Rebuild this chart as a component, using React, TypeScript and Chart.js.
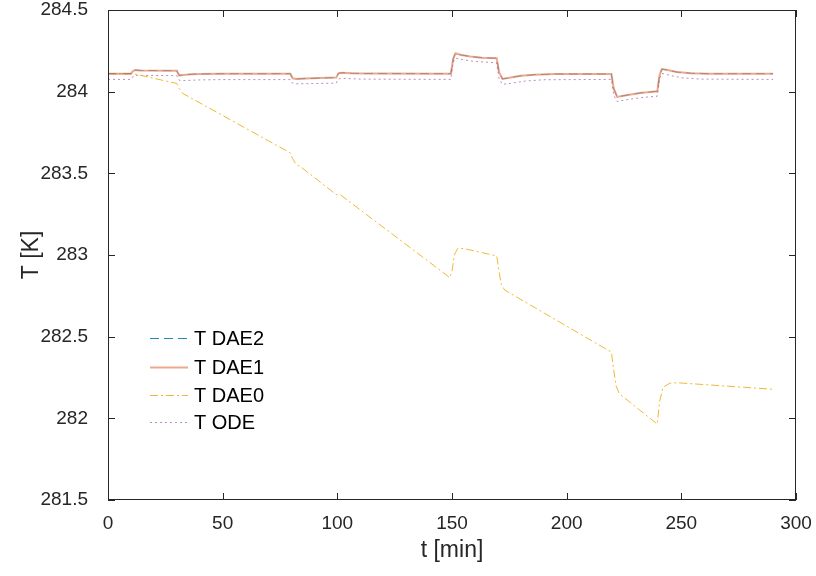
import React, { useEffect, useRef } from "react";
import { Chart, registerables } from "chart.js";

Chart.register(...registerables);

const dae_t = [0, 10, 11, 12, 14, 30, 31, 33, 36, 40, 50, 79.5, 80.5, 82, 86, 92, 99.5, 100.5, 102, 106, 112, 149.5, 150.5, 151.5, 154, 158, 163, 169.5, 170.5, 172, 175, 180, 186, 195, 219.5, 220.5, 222, 226, 232, 239.5, 240.5, 241.5, 244, 248, 254, 262, 290];
const dae2_T = [284.11, 284.11, 284.128, 284.132, 284.13, 284.128, 284.1, 284.102, 284.106, 284.108, 284.11, 284.11, 284.082, 284.078, 284.08, 284.083, 284.086, 284.112, 284.116, 284.113, 284.111, 284.11, 284.2, 284.235, 284.225, 284.215, 284.208, 284.205, 284.12, 284.078, 284.085, 284.097, 284.104, 284.108, 284.108, 284.02, 283.968, 283.978, 283.992, 284.002, 284.1, 284.138, 284.132, 284.12, 284.113, 284.11, 284.11];
const dae1_T = [284.11, 284.11, 284.128, 284.132, 284.13, 284.128, 284.1, 284.102, 284.106, 284.108, 284.11, 284.11, 284.082, 284.078, 284.08, 284.083, 284.086, 284.112, 284.116, 284.113, 284.111, 284.11, 284.2, 284.235, 284.225, 284.215, 284.208, 284.205, 284.12, 284.078, 284.085, 284.097, 284.104, 284.108, 284.108, 284.02, 283.968, 283.978, 283.992, 284.002, 284.1, 284.138, 284.132, 284.12, 284.113, 284.11, 284.11];

const ode_t = [0, 10, 11, 12, 30, 31, 33, 40, 50, 79.5, 80.5, 82, 90, 99.5, 100.5, 102, 110, 149.5, 150.5, 151.5, 155, 160, 169.5, 170.5, 172, 176, 182, 190, 219.5, 220.5, 222, 228, 234, 239.5, 240.5, 241.5, 245, 250, 258, 290];
const ode_T = [284.075, 284.075, 284.095, 284.1, 284.098, 284.07, 284.068, 284.072, 284.074, 284.074, 284.052, 284.048, 284.05, 284.052, 284.078, 284.082, 284.077, 284.075, 284.18, 284.205, 284.195, 284.185, 284.177, 284.08, 284.045, 284.052, 284.065, 284.073, 284.075, 283.98, 283.94, 283.955, 283.966, 283.972, 284.08, 284.112, 284.1, 284.085, 284.077, 284.075];

const dae0_t = [0, 10, 11, 30, 31, 32.5, 79.5, 80.5, 82, 84, 99.5, 101, 149, 150, 151, 152.5, 155, 169.5, 170.5, 171.5, 173, 219.5, 220.5, 221.5, 223, 239.5, 240.5, 242, 245, 248, 290];
const dae0_T = [284.11, 284.11, 284.11, 284.05, 284.02, 283.99, 283.625, 283.59, 283.555, 283.54, 283.37, 283.372, 282.862, 282.9, 283.0, 283.04, 283.04, 282.994, 282.9, 282.82, 282.785, 282.405, 282.3, 282.2, 282.15, 281.965, 282.1, 282.19, 282.215, 282.218, 282.178];

const xTicks = [0, 50, 100, 150, 200, 250, 300];
const yTicks = [281.5, 282, 282.5, 283, 283.5, 284, 284.5];

const legendNames = ["T DAE2", "T DAE1", "T DAE0", "T ODE"];

const FONT = "'Liberation Sans', Arial, Helvetica, sans-serif";
const AX = "#262626";

const pts = (t: number[], v: number[]) => t.map((x, i) => ({ x, y: v[i] }));

const styles = {
  dae2: { color: "rgba(0,114,189,0.5)", legend: "rgba(0,114,189,0.85)", width: 1, dash: [9, 5] },
  dae1: { color: "rgba(217,83,25,0.5)", legend: "rgba(217,83,25,0.5)", width: 2, dash: [] as number[] },
  dae0: { color: "rgba(237,177,32,0.9)", legend: "rgba(237,177,32,0.9)", width: 1, dash: [8, 3, 2, 3] },
  ode: { color: "rgba(126,47,142,0.55)", legend: "rgba(126,47,142,0.55)", width: 1, dash: [2, 3] },
};

export default function App() {
  const ref = useRef<HTMLCanvasElement | null>(null);
  useEffect(() => {
    if (!ref.current) return;
    const frame = {
      id: "frame",
      afterDraw(chart: any) {
        const { ctx, chartArea: a, scales } = chart;
        ctx.save();
        ctx.strokeStyle = AX;
        ctx.lineWidth = 1;
        ctx.strokeRect(a.left + 0.5, a.top + 0.5, a.right - a.left - 1, a.bottom - a.top - 1);
        const L = 7;
        ctx.beginPath();
        for (const v of xTicks) {
          const x = Math.round(scales.x.getPixelForValue(v)) + 0.5;
          ctx.moveTo(x, a.bottom);
          ctx.lineTo(x, a.bottom - L);
          ctx.moveTo(x, a.top);
          ctx.lineTo(x, a.top + L);
        }
        for (const v of yTicks) {
          const y = Math.round(scales.y.getPixelForValue(v)) + 0.5;
          ctx.moveTo(a.left, y);
          ctx.lineTo(a.left + L, y);
          ctx.moveTo(a.right, y);
          ctx.lineTo(a.right - L, y);
        }
        ctx.stroke();
        // legend
        const order = [styles.dae2, styles.dae1, styles.dae0, styles.ode];
        const rows = [338, 367, 395, 422];
        ctx.font = `20px ${FONT}`;
        ctx.textBaseline = "middle";
        ctx.textAlign = "left";
        order.forEach((s, i) => {
          ctx.beginPath();
          ctx.strokeStyle = s.legend;
          ctx.lineWidth = s.width;
          ctx.setLineDash(s.dash);
          ctx.moveTo(150, rows[i] + 0.5);
          ctx.lineTo(188, rows[i] + 0.5);
          ctx.stroke();
          ctx.setLineDash([]);
          ctx.fillStyle = "#000";
          ctx.fillText(legendNames[i], 194, rows[i] + 1);
        });
        ctx.restore();
      },
    };
    const mk = (label: string, data: any[], s: any) => ({
      label,
      data,
      borderColor: s.color,
      borderWidth: s.width,
      borderDash: s.dash,
      pointRadius: 0,
      fill: false,
      tension: 0,
    });
    const chart = new Chart(ref.current, {
      type: "line",
      data: {
        datasets: [
          mk("T DAE1", pts(dae_t, dae1_T), styles.dae1),
          mk("T DAE2", pts(dae_t, dae2_T), styles.dae2),
          mk("T DAE0", pts(dae0_t, dae0_T), styles.dae0),
          mk("T ODE", pts(ode_t, ode_T), styles.ode),
        ],
      },
      options: {
        animation: false,
        responsive: false,
        layout: { autoPadding: false, padding: { top: 10, right: 20, left: 0, bottom: 0 } },
        plugins: { legend: { display: false }, tooltip: { enabled: false } },
        scales: {
          x: {
            type: "linear",
            min: 0,
            max: 300,
            afterBuildTicks: (s: any) => {
              s.ticks = xTicks.map((v) => ({ value: v }));
            },
            afterFit: (s: any) => {
              s.height = 76;
              s.paddingLeft = 0;
              s.paddingRight = 0;
              s.paddingTop = 0;
              s.paddingBottom = 0;
            },
            grid: { display: false, drawTicks: false },
            border: { display: false },
            ticks: { color: AX, font: { size: 19, family: FONT }, padding: 12, maxRotation: 0 },
            title: { display: true, text: "t [min]", color: AX, font: { size: 23, family: FONT }, padding: { top: 0, bottom: 12 } },
          },
          y: {
            type: "linear",
            min: 281.5,
            max: 284.5,
            afterBuildTicks: (s: any) => {
              s.ticks = yTicks.map((v) => ({ value: v }));
            },
            afterFit: (s: any) => {
              s.width = 108;
              s.paddingLeft = 0;
              s.paddingRight = 0;
              s.paddingTop = 0;
              s.paddingBottom = 0;
            },
            grid: { display: false, drawTicks: false },
            border: { display: false },
            ticks: { color: AX, font: { size: 19, family: FONT }, padding: 20, callback: (v: any) => String(v) },
            title: { display: true, text: "T [K]", color: AX, font: { size: 23, family: FONT }, padding: { top: 18, bottom: 0 } },
          },
        },
      },
      plugins: [frame],
    } as any);
    return () => chart.destroy();
  }, []);
  return (
    <div style={{ position: "fixed", left: 0, top: 0, width: 816, height: 576, background: "#fff" }}>
      <canvas ref={ref} width={816} height={576} style={{ width: 816, height: 576 }} />
    </div>
  );
}
